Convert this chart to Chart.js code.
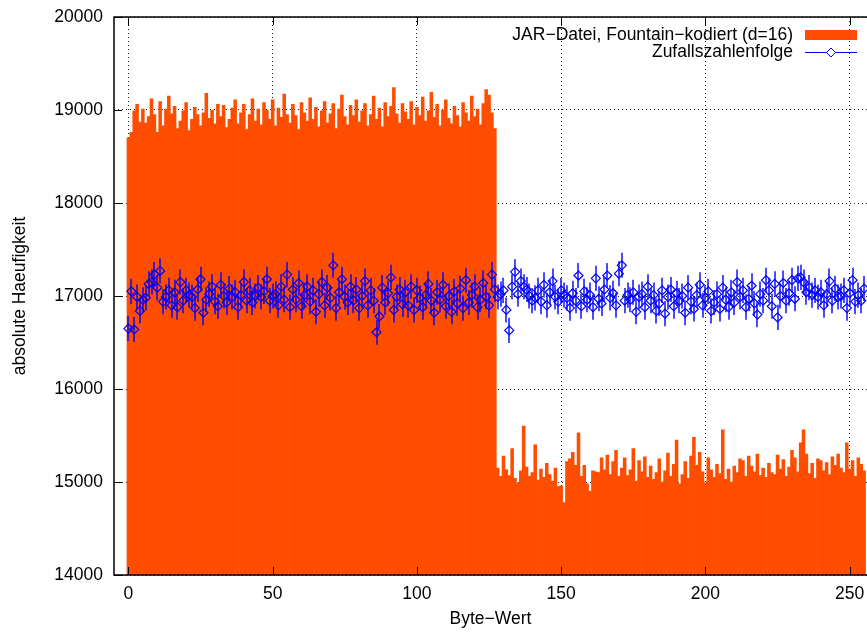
<!DOCTYPE html>
<html>
<head>
<meta charset="utf-8">
<script src="https://cdn.jsdelivr.net/npm/chart.js@4"></script>
<style>
  body { margin: 0; background: #fff; }
  #wrap { width: 867px; height: 632px; }
</style>
</head>
<body>
<div id="wrap"><canvas id="chart" width="867" height="632"></canvas></div>
<script>
// Byte-Werte 0..255
const byteWerte = Array.from({ length: 256 }, (_, i) => i);

// JAR-Datei, Fountain-kodiert (d=16): Häufigkeit je Byte-Wert
const jarHaeufigkeit = [
  18700, 18760, 18990, 19060, 18870, 19010, 18860, 18930, 19120, 18950, 18760, 19090, 18830, 19010, 19150, 18960,
  19040, 18800, 18880, 18990, 19080, 18780, 18900, 19030, 18950, 18830, 18970, 19180, 18910, 19000, 18850, 19060,
  18930, 19050, 18810, 18900, 19020, 19110, 18850, 18970, 19060, 18790, 18950, 19120, 18880, 19010, 18840, 19080,
  19000, 18900, 19110, 18830, 19020, 18920, 19170, 18950, 18860, 19060, 18940, 18790, 19080, 18970, 18880, 19130,
  18900, 19030, 18820, 18990, 19090, 18860, 18960, 19070, 18800, 19010, 19160, 18930, 18840, 19050, 18940, 19110,
  18870, 18990, 19070, 18830, 18950, 19150, 18900, 19020, 18820, 19080, 18930, 19040, 19240, 18960, 18860, 19070,
  18980, 18900, 19090, 18840, 19030, 18940, 19140, 18880, 18990, 19190, 18920, 19060, 18830, 19000, 19110, 18910,
  18850, 19040, 18940, 18820, 19080, 18970, 18880, 19150, 18930, 19010, 18840, 19070, 19220, 19160, 18970, 18800,
  15150, 15060, 15280, 15130, 15070, 15360, 15040, 14990, 15120, 15600, 15160, 15060, 15100, 15400, 15020, 15140,
  15050, 15200, 15080, 15010, 15150, 14950, 14960, 14780, 15220, 15250, 15320, 15180, 15530, 15060, 15180, 14980,
  14900, 15120, 15110, 15100, 15260, 15130, 15290, 15080, 15220, 15340, 15060, 15150, 15260, 15070, 15130, 15360,
  15010, 15230, 15110, 15270, 15050, 15170, 15030, 15100, 15250, 15000, 15120, 15310, 15060, 15190, 15450, 14980,
  15080, 15220, 15040, 15280, 15480, 15180, 15320, 15110, 14990, 15260, 15130, 15050, 15190, 15090, 15560, 15030,
  15140, 15000, 15170, 15100, 15250, 15230, 15060, 15280, 15170, 15110, 15300, 15070, 15150, 15050, 15200, 15100,
  15080, 15290, 15140, 15240, 15060, 15160, 15340, 15260, 15110, 15420, 15560, 15300, 15090, 15200, 15040, 15250,
  15230, 15120, 15210, 15080, 15270, 15180, 15300, 15150, 15100, 15420, 15140, 15230, 15060, 15260, 15190, 15120
];

// Zufallszahlenfolge: Häufigkeit je Byte-Wert
const zufallHaeufigkeit = [
  16650, 17050, 16640, 16990, 16840, 16960, 16980, 17130, 17150, 17230, 17090, 17270, 16940, 16990, 17060, 16900,
  17040, 16880, 17150, 16950, 17060, 17010, 16990, 16870, 17070, 17180, 16820, 16960, 17020, 17100, 16940, 16890,
  17120, 17000, 16930, 17080, 16990, 17040, 16880, 17010, 17150, 16950, 17060, 16930, 17000, 17090, 16990, 17050,
  17180, 16950, 17000, 17020, 16900, 17100, 16960, 17230, 16880, 17070, 16960, 17140, 16890, 17010, 17100, 16940,
  17060, 16830, 17020, 17150, 16900, 17090, 16980, 17330, 16870, 17040, 17180, 16990, 16930, 17100, 16950, 17070,
  16870, 17000, 17160, 16900, 17060, 16950, 16610, 16780, 17090, 16930, 17030, 17200, 16850, 16990, 17070, 16910,
  17040, 16900, 17100, 16850, 17060, 16980, 16880, 17010, 17130, 16950, 16820, 17040, 16960, 17120, 16890, 17000,
  16830, 17050, 16920, 17080, 16870, 17170, 16930, 17010, 17100, 16880, 16960, 17140, 16990, 16900, 17230, 17070,
  16990, 17020, 17060, 16850, 16630, 17100, 17260, 17020, 17160, 17100, 17070, 17000, 16950, 16980, 17060, 16940,
  17120, 16900, 17040, 17160, 16990, 16940, 17060, 17010, 16980, 16870, 17030, 16950, 17220, 16890, 17050, 16960,
  17010, 16880, 17190, 16970, 16920, 17070, 17220, 16980, 17030, 16900, 17240, 17330, 16950, 17010, 16960, 17040,
  16830, 16990, 17020, 16880, 17100, 16950, 17010, 16840, 16920, 17060, 16810, 16990, 17070, 16890, 17030, 16950,
  17000, 16820, 17090, 16940, 16860, 17010, 17120, 16900, 16980, 17050, 16840, 16930, 17020, 16860, 17090, 16960,
  16880, 17040, 16930, 17150, 16990, 17060, 16880, 16970, 17110, 16920, 16800, 17020, 16950, 17170, 17060, 16890,
  17130, 16770, 17000, 17140, 16950, 17030, 17170, 16970, 17190, 17200, 17150, 17040, 17090, 17010, 17060, 16990,
  17040, 16900, 17020, 17160, 16950, 17080, 16990, 17000, 17060, 16870, 17030, 17170, 16940, 17010, 16950, 17080
];

// Fehlerbalken (± absolute Häufigkeit)
const zufallFehler = 135;

const xTicks = [0, 50, 100, 150, 200, 250];
const yTicks = [14000, 15000, 16000, 17000, 18000, 19000, 20000];

const labelJar = "JAR\u2212Datei, Fountain\u2212kodiert (d=16)";
const labelZufall = "Zufallszahlenfolge";

const ORANGE = "#ff4d00";
const BLAU = "#0000ff";
const FONT = "'Liberation Sans', Arial, Helvetica, sans-serif";
const FONTSIZE = 17.5;

Chart.defaults.color = "#000";
Chart.defaults.font.family = FONT;
Chart.defaults.font.size = FONTSIZE;

// Fehlerbalken nach den Balken, vor den Punkten zeichnen
const fehlerbalken = {
  id: "fehlerbalken",
  afterDatasetDraw(chart, args) {
    if (args.index !== 1) return;
    const { ctx, scales: { x, y }, chartArea } = chart;
    ctx.save();
    ctx.beginPath();
    ctx.rect(chartArea.left, chartArea.top, chartArea.right - chartArea.left, chartArea.bottom - chartArea.top);
    ctx.clip();
    ctx.strokeStyle = "rgba(0,0,255,0.7)";
    ctx.lineWidth = 2;
    ctx.beginPath();
    byteWerte.forEach((b, i) => {
      const px = Math.round(x.getPixelForValue(b));
      ctx.moveTo(px, y.getPixelForValue(zufallHaeufigkeit[i] - zufallFehler));
      ctx.lineTo(px, y.getPixelForValue(zufallHaeufigkeit[i] + zufallFehler));
    });
    ctx.stroke();
    ctx.restore();
  }
};

// Rahmen, Ticks nach innen und Legende im gnuplot-Stil
const rahmen = {
  id: "rahmen",
  afterDraw(chart) {
    const { ctx, scales: { x, y }, chartArea: a } = chart;
    ctx.save();
    ctx.strokeStyle = "#000";
    ctx.lineWidth = 1.5;
    ctx.beginPath();
    ctx.moveTo(a.right + 2, a.top);
    ctx.lineTo(a.left, a.top);
    ctx.lineTo(a.left, a.bottom);
    ctx.lineTo(a.right + 2, a.bottom);
    ctx.stroke();

    ctx.lineWidth = 1;
    ctx.beginPath();
    xTicks.forEach(t => {
      const px = Math.round(x.getPixelForValue(t)) + 0.5;
      ctx.moveTo(px, a.bottom);
      ctx.lineTo(px, a.bottom - 8);
      ctx.moveTo(px, a.top);
      ctx.lineTo(px, a.top + 8);
    });
    yTicks.forEach(t => {
      const py = Math.round(y.getPixelForValue(t)) + 0.5;
      ctx.moveTo(a.left, py);
      ctx.lineTo(a.left + 8, py);
    });
    ctx.stroke();

    // Legende
    ctx.font = FONTSIZE + "px " + FONT;
    ctx.textAlign = "right";
    ctx.textBaseline = "middle";
    ctx.fillStyle = "#000";
    ctx.fillText(labelJar, 793, 35);
    ctx.fillText(labelZufall, 793, 52);

    ctx.fillStyle = ORANGE;
    ctx.fillRect(805, 30, 52, 10);

    ctx.strokeStyle = BLAU;
    ctx.lineWidth = 1;
    ctx.beginPath();
    ctx.moveTo(805, 52.5);
    ctx.lineTo(857, 52.5);
    ctx.stroke();
    ctx.beginPath();
    ctx.moveTo(831, 48);
    ctx.lineTo(835.5, 52.5);
    ctx.lineTo(831, 57);
    ctx.lineTo(826.5, 52.5);
    ctx.closePath();
    ctx.fillStyle = "#fff";
    ctx.fill();
    ctx.stroke();
    ctx.restore();
  }
};

const gridStil = {
  color: "rgba(0,0,0,0.9)",
  lineWidth: 1,
  offset: false,
  drawTicks: false,
  tickLength: 0
};

new Chart(document.getElementById("chart"), {
  type: "bar",
  data: {
    datasets: [
      {
        type: "line",
        label: labelZufall,
        data: byteWerte.map((b, i) => ({ x: b, y: zufallHaeufigkeit[i] })),
        showLine: false,
        pointStyle: "rectRot",
        pointRadius: 4.5,
        pointBorderWidth: 1.2,
        pointBorderColor: BLAU,
        pointBackgroundColor: "rgba(0,0,0,0)",
        borderColor: BLAU,
        order: 1
      },
      {
        type: "bar",
        label: labelJar,
        data: byteWerte.map((b, i) => ({ x: b, y: jarHaeufigkeit[i] })),
        backgroundColor: ORANGE,
        borderColor: ORANGE,
        borderWidth: 0,
        barPercentage: 1,
        categoryPercentage: 1,
        order: 2
      }
    ]
  },
  options: {
    responsive: false,
    animation: false,
    events: [],
    layout: {
      autoPadding: false,
      padding: { top: 17, right: 0, bottom: 0, left: 0 }
    },
    plugins: {
      legend: { display: false },
      tooltip: { enabled: false }
    },
    scales: {
      x: {
        type: "linear",
        min: -5,
        max: 256,
        offset: false,
        border: { display: false, dash: [1, 3] },
        grid: gridStil,
        ticks: {
          stepSize: 50,
          includeBounds: false,
          padding: 9,
          maxRotation: 0,
          autoSkip: false,
          callback: v => String(v)
        },
        title: {
          display: true,
          text: "Byte\u2212Wert",
          padding: { top: 0, bottom: 2 }
        },
        afterFit(scale) {
          scale.height = 57;
          scale.paddingLeft = 0;
          scale.paddingRight = 0;
        }
      },
      y: {
        min: 14000,
        max: 20000,
        border: { display: false, dash: [1, 3] },
        grid: gridStil,
        ticks: {
          stepSize: 1000,
          padding: 11,
          callback: v => String(v)
        },
        title: {
          display: true,
          text: "absolute Haeufigkeit",
          padding: { top: 10, bottom: 0 }
        },
        afterFit(scale) {
          scale.width = 114;
          scale.paddingTop = 0;
          scale.paddingBottom = 0;
        }
      }
    }
  },
  plugins: [fehlerbalken, rahmen]
});
</script>
</body>
</html>
